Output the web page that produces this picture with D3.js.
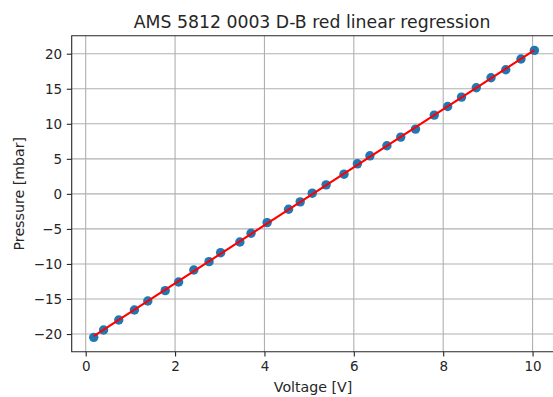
<!DOCTYPE html>
<html>
<head>
<meta charset="utf-8">
<script src="https://cdn.jsdelivr.net/npm/d3@7"></script>
<style>
  html, body { margin: 0; padding: 0; background: #fff; }
  svg { display: block; font-family: "DejaVu Sans", sans-serif; }
</style>
</head>
<body>
<svg id="chart" width="553" height="397"></svg>
<script>
// Calibration measurements: sensor output voltage vs. applied pressure
const voltage = [0.18, 0.40, 0.74, 1.09, 1.39, 1.78, 2.08, 2.42, 2.76, 3.02, 3.45,
                 3.70, 4.06, 4.54, 4.80, 5.07, 5.38, 5.78, 6.08, 6.36, 6.74, 7.05,
                 7.38, 7.80, 8.10, 8.41, 8.74, 9.07, 9.40, 9.74, 10.04];
const pressure = [-20.47, -19.43, -18.00, -16.57, -15.29, -13.81, -12.57, -10.86, -9.67,
                  -8.39, -6.86, -5.62, -4.10, -2.19, -1.14, 0.10, 1.29, 2.81, 4.29, 5.43,
                  6.86, 8.10, 9.24, 11.24, 12.47, 13.81, 15.14, 16.57, 17.71, 19.24, 20.47];
const xTicks = [0, 2, 4, 6, 8, 10];
const yTicks = [-20, -15, -10, -5, 0, 5, 10, 15, 20];
const titleText = "AMS 5812 0003 D-B red linear regression";
const xLabelText = "Voltage [V]";
const yLabelText = "Pressure [mbar]";

const points = voltage.map((v, i) => ({ x: v, y: pressure[i] }));

// Least-squares fit of pressure against voltage
const mx = d3.mean(voltage), my = d3.mean(pressure);
const sxy = d3.sum(points, p => (p.x - mx) * (p.y - my));
const sxx = d3.sum(points, p => (p.x - mx) ** 2);
const slope = sxy / sxx;
const intercept = my - slope * mx;
const xExt = d3.extent(voltage);
const fit = xExt.map(x => ({ x, y: intercept + slope * x }));

// Axes box and 5% data margins
const box = { left: 71.7, right: 556.4, top: 35.7, bottom: 351.7 };
function padded(ext) { const p = (ext[1] - ext[0]) * 0.05; return [ext[0] - p, ext[1] + p]; }
const yAll = d3.extent(pressure.concat(fit.map(d => d.y)));
const x = d3.scaleLinear().domain(padded(xExt)).range([box.left, box.right]);
const y = d3.scaleLinear().domain(padded(yAll)).range([box.bottom, box.top]);

const svg = d3.select("#chart");
const ink = "#262626";
const tickSize = 13.5;
const labelSize = 14.2;

// Grid
const grid = svg.append("g").attr("stroke", "#b0b0b0").attr("stroke-width", 1.1);
grid.selectAll("line.gx").data(xTicks).join("line")
  .attr("x1", d => x(d)).attr("x2", d => x(d))
  .attr("y1", box.top).attr("y2", box.bottom);
grid.selectAll("line.gy").data(yTicks).join("line")
  .attr("x1", box.left).attr("x2", box.right)
  .attr("y1", d => y(d)).attr("y2", d => y(d));

// Data points
svg.append("g").selectAll("circle").data(points).join("circle")
  .attr("cx", d => x(d.x)).attr("cy", d => y(d.y))
  .attr("r", 4.7).attr("fill", "#1f77b4");

// Regression line
svg.append("path").datum(fit)
  .attr("d", d3.line().x(d => x(d.x)).y(d => y(d.y)))
  .attr("fill", "none").attr("stroke", "red").attr("stroke-width", 2.1);

// Axes
const xAxis = svg.append("g").attr("transform", `translate(0,${box.bottom})`)
  .call(d3.axisBottom(x).tickValues(xTicks).tickSize(4.9).tickPadding(4.6)
    .tickFormat(d3.format("d")));
const yAxis = svg.append("g").attr("transform", `translate(${box.left},0)`)
  .call(d3.axisLeft(y).tickValues(yTicks).tickSize(4.9).tickPadding(4.6)
    .tickFormat(d => d < 0 ? "\u2212" + Math.abs(d) : String(d)));
[xAxis, yAxis].forEach(a => {
  a.select(".domain").remove();
  a.selectAll(".tick line").attr("stroke", ink).attr("stroke-width", 1.1);
  a.selectAll(".tick text").attr("fill", ink)
    .attr("font-family", "DejaVu Sans, sans-serif").attr("font-size", tickSize);
});

// Spines (left, bottom, top; right edge falls outside the canvas)
svg.append("path")
  .attr("d", `M${box.right},${box.top}H${box.left}V${box.bottom}H${box.right}`)
  .attr("fill", "none").attr("stroke", ink).attr("stroke-width", 1.1);

// Titles
svg.append("text").attr("x", (box.left + box.right) / 2 - 2).attr("y", 27.5)
  .attr("text-anchor", "middle").attr("font-size", 17.3).attr("fill", ink)
  .text(titleText);
svg.append("text").attr("x", (box.left + box.right) / 2 - 1).attr("y", 392)
  .attr("text-anchor", "middle").attr("font-size", labelSize).attr("fill", ink)
  .text(xLabelText);
svg.append("text")
  .attr("transform", `translate(24,${(box.top + box.bottom) / 2}) rotate(-90)`)
  .attr("text-anchor", "middle").attr("font-size", labelSize).attr("fill", ink)
  .text(yLabelText);
</script>
</body>
</html>
